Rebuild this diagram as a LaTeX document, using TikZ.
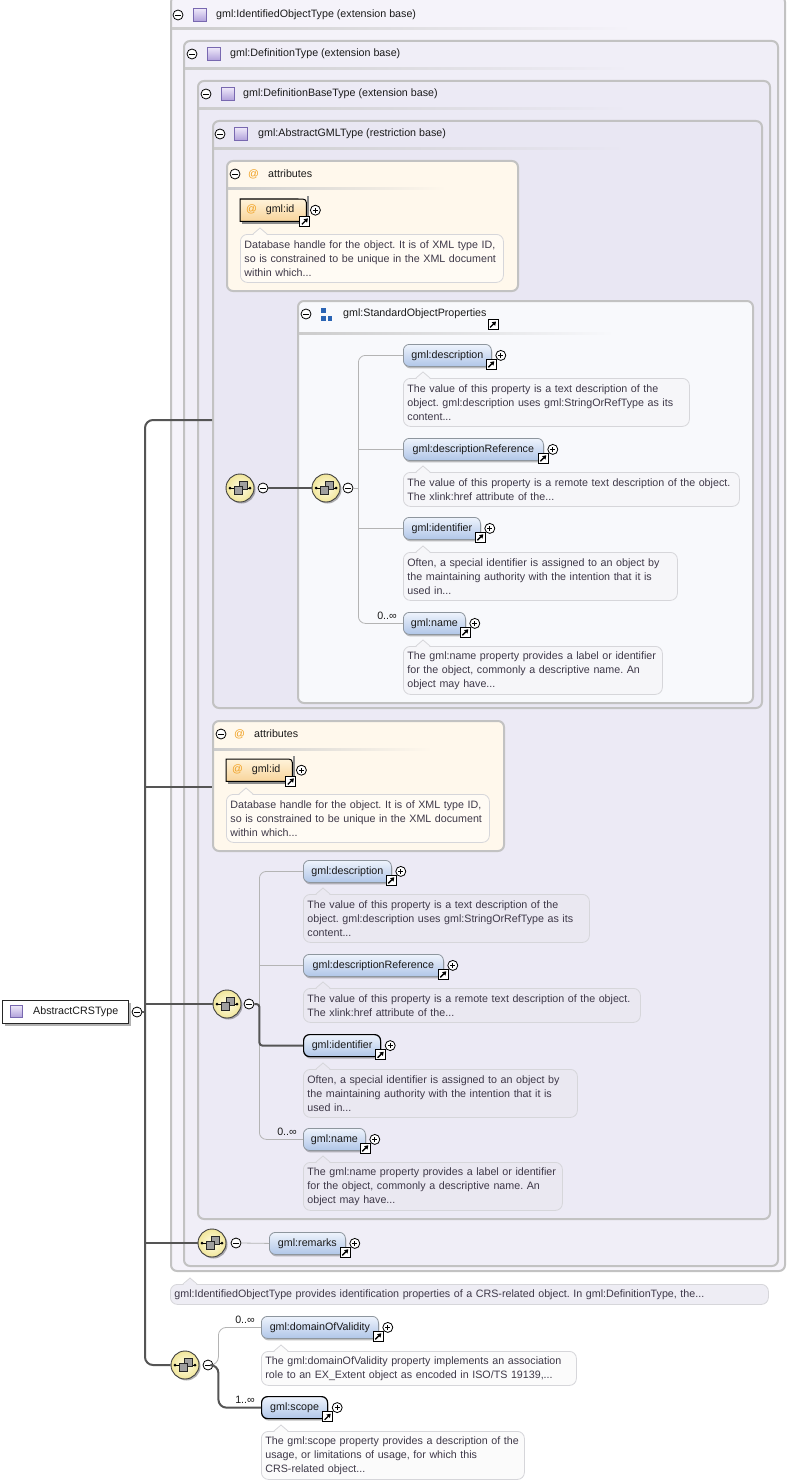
\documentclass[tikz,border=0pt]{standalone}
\usepackage{fontspec}
\setmainfont{Liberation Sans}
\usetikzlibrary{shadows,calc,arrows.meta}
\definecolor{bgA}{HTML}{F5F3FA}
\definecolor{bgB}{HTML}{F0EEF7}
\definecolor{bgC}{HTML}{ECEAF5}
\definecolor{bgD}{HTML}{E9E7F3}
\definecolor{boxln}{HTML}{C2C2C2}
\definecolor{attrbg}{HTML}{FFF8EC}
\definecolor{grpbg}{HTML}{F8F9FC}
\definecolor{elTop}{HTML}{EEF3FC}
\definecolor{elBot}{HTML}{B0C6E8}
\definecolor{elLine}{HTML}{8E969E}
\definecolor{atTop}{HTML}{FFF3DA}
\definecolor{atBot}{HTML}{F8D49A}
\definecolor{atcol}{HTML}{F0A020}
\definecolor{txt}{HTML}{1A1A1A}
\definecolor{bubtxt}{HTML}{3E3848}
\definecolor{bubln}{HTML}{D6D6DA}
\definecolor{conn}{HTML}{555555}
\definecolor{thinc}{HTML}{B4B4B4}
\definecolor{seqIn}{HTML}{FFFDE6}
\definecolor{seqOut}{HTML}{F1E69A}
\definecolor{tiTop}{HTML}{EEE8FA}
\definecolor{tiBot}{HTML}{B0A0DA}
\definecolor{tiLn}{HTML}{7868B0}
\definecolor{grpblue}{HTML}{2A64B4}
\definecolor{bubA}{HTML}{FFFBF4}
\definecolor{bubG}{HTML}{F6F6F9}
\definecolor{bubC}{HTML}{EAE8F1}
\definecolor{bubW}{HTML}{FBFBFB}
\definecolor{bubM}{HTML}{EEEDF4}
\tikzset{
 tbox/.style={draw=boxln, line width=2, rounded corners=6, anchor=north west, inner sep=0},
 hdr/.style={anchor=west, inner sep=0, text=txt},
 ticon/.style={draw=tiLn, line width=0.8, top color=tiTop, bottom color=tiBot, minimum size=13, inner sep=0},
 pmcirc/.style={circle, draw=black, line width=0.8, fill=white, minimum size=10, inner sep=0},
 lnkbox/.style={draw=black, line width=1, fill=white, minimum size=10, inner sep=0},
 elem/.style={draw=elLine, line width=0.8, rounded corners=6, top color=elTop, bottom color=elBot, anchor=north west, minimum height=22, inner sep=0, text=txt, drop shadow={shadow xshift=1pt, shadow yshift=-2pt, fill=black, opacity=0.25}},
 reqelem/.style={elem, draw=black, line width=1.2},
 atel/.style={anchor=north west, minimum height=22, inner sep=0},
 bubble/.style={draw=bubln, line width=0.8, rounded corners=7, text=bubtxt, anchor=north west, align=left, inner xsep=4, inner ysep=3},
 seqc/.style={circle, draw=black!75, line width=0.9, inner color=seqIn, outer color=seqOut, minimum size=28, inner sep=0, drop shadow={shadow xshift=1.5pt, shadow yshift=-1.5pt, fill=black, opacity=0.3}},
 dconn/.style={draw=conn, line width=2},
 tconn/.style={draw=thinc, line width=0.8},
 mult/.style={anchor=east, inner sep=0, text=txt},
}
\newcommand\mkpm[3]{%
 \node[pmcirc] (#1) at (#2) {};
 \draw[line width=0.8] ([xshift=-2.6]#1.center) -- ([xshift=2.6]#1.center);
 \ifnum#3=1 \draw[line width=0.8] ([yshift=-2.6]#1.center) -- ([yshift=2.6]#1.center);\fi}
\newcommand\mklnk[2]{%
 \node[lnkbox] (#1) at (#2) {};
 \draw[line width=1.3, -{Triangle[length=3.6pt,width=4.6pt]}] ([shift={(-3,3)}]#1.center) -- ([shift={(3,-3)}]#1.center);}
\newcommand\mkel[6]{%
 \node[#2, minimum width=#5] (#1) at (#3,#4) {#6};
 \mklnk{#1-l}{[xshift=-0.5,yshift=2.5]#1.south east}
 \mkpm{#1-p}{[xshift=9]#1.east}{1}}
\newcommand\mkat[4]{%
 \path node[atel, minimum width=#4] (#1) at (#2,#3) {};
 \draw[black!45, line width=2] ([shift={(2,1.5)}]#1.south west) -- ([shift={(1.5,1.5)}]#1.south east) -- ([shift={(1.5,-3)}]#1.north east);
 \path[top color=atTop, bottom color=atBot, draw=black, line width=1] (#1.south west) -- (#1.north west) -- ([xshift=-8]#1.north east) .. controls (#1.north east) .. ([yshift=-8]#1.north east) -- (#1.south east) -- cycle;
 \node[inner sep=0, text=txt] (#1-t) at ([xshift=-3]#1.center) {\textcolor{atcol}{@}\hspace{9pt}gml:id};
 \mklnk{#1-l}{[xshift=-1.5,yshift=0]#1.south east}
 \mkpm{#1-p}{[xshift=9]#1.east}{1}}
\newcommand\mkbub[7]{%
 \pgfmathsetmacro\bubtw{#4-8}%
 \node[bubble, fill=#6, minimum width=#4, minimum height=#5, text width=\bubtw pt] (#1) at (#2,#3) {#7};
 \fill[#6] (#2+13,#3+1) -- (#2+20,#3-6) -- (#2+27,#3+1) -- cycle;
 \draw[bubln, line width=0.8] (#2+13,#3) -- (#2+20,#3-6) -- (#2+27,#3);}
\newcommand\mkseq[2]{%
 \node[seqc] (#1) at (#2) {};
 \draw[black, line width=0.8] ([xshift=-10]#1.center) -- ([xshift=10]#1.center);
 \fill[black] ([xshift=-10]#1.center) circle (1.5);
 \fill[black] ([xshift=10]#1.center) circle (1.5);
 \filldraw[fill=gray!75, draw=black!85, line width=0.6] ([shift={(-1,-7)}]#1.center) rectangle ++(8,8);
 \filldraw[fill=gray!75, draw=black!85, line width=0.6] ([shift={(-6,-2)}]#1.center) rectangle ++(8,8);}
\newcommand\mksep[4]{\shade[left color=gray!40, right color=#4] (#1,#2) rectangle (#1+#3,#2+2);}
\begin{document}
\frenchspacing
\begin{tikzpicture}[x=1pt,y=-1pt,font=\fontsize{10.7}{14}\selectfont]
\useasboundingbox (0,0) rectangle (787,1482);
\fill[white] (0,0) rectangle (787,1482);
% nested type boxes
\node[tbox, fill=bgA, minimum width=614, minimum height=1275] (idbox) at (170,-5) {};
\node[tbox, fill=bgB, minimum width=594, minimum height=1225] (defbox) at (183,40) {};
\node[tbox, fill=bgC, minimum width=572, minimum height=1138] (dbbox) at (197,80) {};
\node[tbox, fill=bgD, minimum width=549, minimum height=587] (gmlbox) at (212,120) {};
\node[tbox, fill=attrbg, minimum width=291, minimum height=130] (attr1) at (226,160) {};
\node[tbox, fill=grpbg, minimum width=455, minimum height=402] (grp) at (297,300) {};
\node[tbox, fill=attrbg, minimum width=291, minimum height=130] (attr2) at (212,720) {};
% headers
\mkpm{h1m}{178,15}{0}
\node[ticon] (h1i) at (199.5,15) {};
\node[hdr] (h1t) at (216,15) {gml:IdentifiedObjectType (extension base)};
\mksep{172}{28}{460}{bgA}
\mkpm{h2m}{192,54}{0}
\node[ticon] (h2i) at (214,54) {};
\node[hdr] (h2t) at (230,54) {gml:DefinitionType (extension base)};
\mksep{185}{68}{445}{bgB}
\mkpm{h3m}{206,94}{0}
\node[ticon] (h3i) at (227.5,94) {};
\node[hdr] (h3t) at (243,94) {gml:DefinitionBaseType (extension base)};
\mksep{199}{108}{430}{bgC}
\mkpm{h4m}{220,134}{0}
\node[ticon] (h4i) at (241,134) {};
\node[hdr] (h4t) at (258,134) {gml:AbstractGMLType (restriction base)};
\mksep{214}{148}{412}{bgD}
% attributes 1
\mkpm{a1m}{235,174}{0}
\node[hdr, text=atcol] (a1at) at (248,174) {@};
\node[hdr] (a1t) at (268,174) {attributes};
\mksep{228}{188}{218}{attrbg}
\mkat{id1}{240}{199}{66}
\mkbub{id1b}{240}{234}{263}{48}{bubA}{Database handle for the object. It is of XML type ID,\\so is constrained to be unique in the XML document\\within which...}
% group
\mkpm{gm}{306,314}{0}
\fill[grpblue] (321,308) rectangle (325.5,312.5);
\fill[grpblue] (321,316) rectangle (325.5,320.5);
\fill[grpblue] (327.5,316) rectangle (332,320.5);
\node[hdr] (gt) at (343,314) {gml:StandardObjectProperties};
\mklnk{gl}{493,324.5}
\mksep{299}{332}{315}{grpbg}
% sequences
\mkseq{s1}{240,488}
\mkpm{s1m}{263,488}{0}
\mkseq{s1b}{326,488}
\mkpm{s1bm}{348,488}{0}
\mkel{g1desc}{elem}{403}{344}{88}{gml:description}
\mkbub{g1descb}{403}{378}{286}{48}{bubG}{The value of this property is a text description of the\\object. gml:description uses gml:StringOrRefType as its\\content...}
\mkel{g1dref}{elem}{403}{438}{140}{gml:descriptionReference}
\mkbub{g1drefb}{403}{472}{336}{34}{bubG}{The value of this property is a remote text description of the object.\\The xlink:href attribute of the...}
\mkel{g1ident}{elem}{403}{517}{77}{gml:identifier}
\mkbub{g1identb}{403}{552}{274}{48}{bubG}{Often, a special identifier is assigned to an object by\\the maintaining authority with the intention that it is\\used in...}
\mkel{g1name}{elem}{403}{612}{62}{gml:name}
\node[mult] (g1nm) at ([xshift=-6,yshift=7.5]g1name.west) {0..∞};
\mkbub{g1nameb}{403}{646}{259}{48}{bubG}{The gml:name property provides a label or identifier\\for the object, commonly a descriptive name. An\\object may have...}
% attributes 2
\mkpm{a2m}{221,734}{0}
\node[hdr, text=atcol] (a2at) at (234,734) {@};
\node[hdr] (a2t) at (254,734) {attributes};
\mksep{214}{748}{218}{attrbg}
\mkat{id2}{226}{759}{66}
\mkbub{id2b}{226}{794}{263}{48}{bubA}{Database handle for the object. It is of XML type ID,\\so is constrained to be unique in the XML document\\within which...}
% second sequence
\mkseq{s2}{227,1004}
\mkpm{s2m}{249,1004}{0}
\mkel{g2desc}{elem}{303}{860}{88}{gml:description}
\mkbub{g2descb}{303}{894}{286}{48}{bubC}{The value of this property is a text description of the\\object. gml:description uses gml:StringOrRefType as its\\content...}
\mkel{g2dref}{elem}{303}{954}{140}{gml:descriptionReference}
\mkbub{g2drefb}{303}{988}{337}{34}{bubC}{The value of this property is a remote text description of the object.\\The xlink:href attribute of the...}
\mkel{g2ident}{reqelem}{303}{1034}{77}{gml:identifier}
\mkbub{g2identb}{303}{1069}{274}{48}{bubC}{Often, a special identifier is assigned to an object by\\the maintaining authority with the intention that it is\\used in...}
\mkel{g2name}{elem}{303}{1128}{62}{gml:name}
\node[mult] (g2nm) at ([xshift=-6,yshift=7.5]g2name.west) {0..∞};
\mkbub{g2nameb}{303}{1162}{259}{48}{bubC}{The gml:name property provides a label or identifier\\for the object, commonly a descriptive name. An\\object may have...}
% remarks
\mkseq{s3}{212,1243}
\mkpm{s3m}{236,1243}{0}
\mkel{rem}{elem}{269}{1232}{76}{gml:remarks}
% main description
\mkbub{mainb}{170}{1284}{598}{20}{bubM}{gml:IdentifiedObjectType provides identification properties of a CRS-related object. In gml:DefinitionType, the...}
% last sequence
\mkseq{s4}{185,1365}
\mkpm{s4m}{208,1365}{0}
\mkel{dov}{elem}{261}{1316}{117}{gml:domainOfValidity}
\node[mult] (dovm) at ([xshift=-6,yshift=7.5]dov.west) {0..∞};
\mkbub{dovb}{261}{1351}{315}{34}{bubW}{The gml:domainOfValidity property implements an association\\role to an EX\_Extent object as encoded in ISO/TS 19139,...}
\mkel{scope}{reqelem}{261}{1396}{66}{gml:scope}
\node[mult] (scm) at ([xshift=-6,yshift=7.5]scope.west) {1..∞};
\mkbub{scopeb}{261}{1431}{263}{48}{bubW}{The gml:scope property provides a description of the\\usage, or limitations of usage, for which this\\CRS-related object...}
% root
\node[draw=black!85, line width=1, fill=white, anchor=north west, minimum width=126, minimum height=23, inner sep=0, drop shadow={shadow xshift=2pt, shadow yshift=-2pt, fill=black, opacity=0.3}] (root) at (2,1000) {};
\node[ticon, minimum size=12] (rooti) at (16,1011.5) {};
\node[hdr] (roott) at (33,1011.5) {AbstractCRSType};
\mkpm{rootm}{137,1012}{0}
% connectors
\coordinate (tk) at (145,420);
\draw[dconn, rounded corners=8] (gmlbox.west |- tk) -- (tk) -- (tk |- s4.west) -- (s4.west);
\draw[dconn] (tk |- 0,787) -- (attr2.west |- 0,787);
\draw[dconn] (tk |- s2.west) -- (s2.west);
\draw[dconn] (tk |- s3.west) -- (s3.west);
\draw[dconn] (rootm.east) -- (tk |- rootm.east);
\draw[dconn] (s1m.east) -- (s1b.west);
\coordinate (v1) at ([xshift=5]s1bm.east);
\draw[tconn] (s1bm.east) -- (v1);
\draw[tconn, rounded corners=7] (g1desc.west) -- (g1desc.west -| v1) -- (g1name.west -| v1) -- (g1name.west);
\draw[tconn] (g1dref.west -| v1) -- (g1dref.west);
\draw[tconn] (g1ident.west -| v1) -- (g1ident.west);
\coordinate (v2) at ([xshift=5]s2m.east);
\draw[tconn, rounded corners=7] (g2desc.west) -- (g2desc.west -| v2) -- (g2name.west -| v2) -- (g2name.west);
\draw[tconn] (g2dref.west -| v2) -- (g2dref.west);
\draw[dconn, rounded corners=3] (s2m.east) -- (v2) -- (g2ident.west -| v2) -- (g2ident.west);
\draw[tconn] (s3m.east) -- (rem.west);
\coordinate (v4) at ([xshift=5]s4m.east);
\draw[tconn, rounded corners=8] (s4m.east) -- (v4) -- (dov.west -| v4) -- (dov.west);
\draw[dconn, rounded corners=8] (s4m.east) -- (v4) -- (scope.west -| v4) -- (scope.west);
\end{tikzpicture}
\end{document}
